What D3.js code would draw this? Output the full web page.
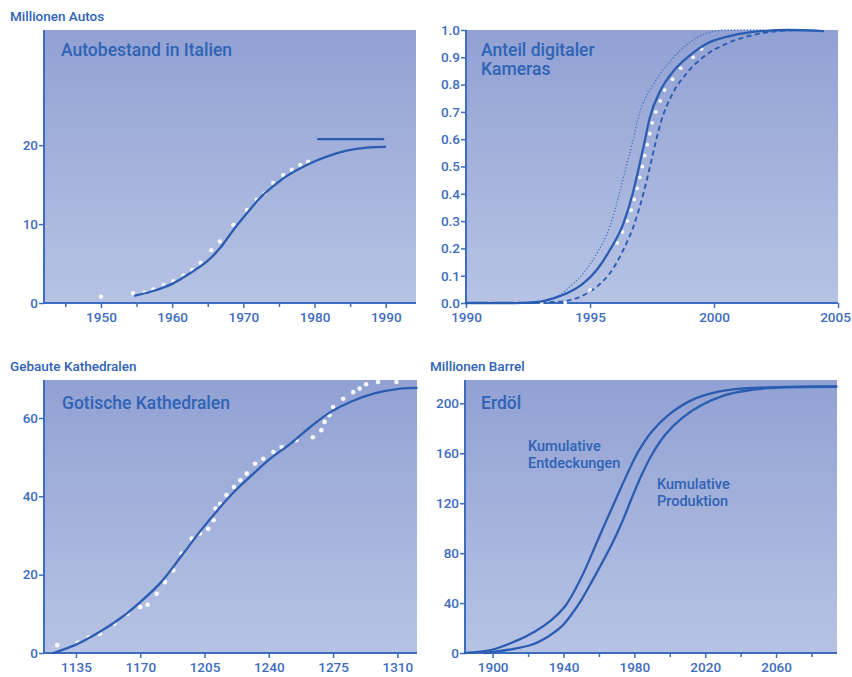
<!DOCTYPE html>
<html><head><meta charset="utf-8">
<script src="https://cdn.jsdelivr.net/npm/d3@7"></script>
<style>
html,body{margin:0;padding:0;background:#fff;}
svg{display:block;font-family:Roboto,"DejaVu Sans",sans-serif;}
</style></head>
<body>
<svg id="c" width="852" height="677"></svg>
<script>
// ---------- DATA ----------
// Panel 1: Autobestand in Italien (Millionen Autos)
const autoFitYears = [1954.8,1957.35,1960.15,1962.5,1964.85,1966.7,1968.6,1970.5,1972.3,1974.2,1976.1,1978.9,1981.7,1984.5,1987.3,1989.9];
const autoFitValues = [0.93,1.52,2.49,3.76,5.24,6.93,9.26,11.37,13.27,14.8,16.1,17.5,18.55,19.3,19.7,19.8];
const autoDotYears = [1950,1954.5,1956.1,1957.35,1958.8,1960.15,1961.6,1962.8,1964,1965.5,1966.7,1968.6,1970.5,1971.9,1973.0,1974.2,1975.6,1976.8,1978,1979.1];
const autoDotValues = [0.8,1.23,1.3,1.73,2.3,2.75,3.5,4.2,5.1,6.7,7.8,9.9,11.8,13.1,13.9,15.2,16.2,16.9,17.5,17.9];
const autoCeilingYears = [1980.5,1989.65];
const autoCeilingValues = [20.76,20.76];
const autoXTicks = [1950,1960,1970,1980,1990];
const autoXMinor = [1945,1955,1965,1975,1985];
const autoYTicks = [0,10,20];

// Panel 2: Anteil digitaler Kameras
const camSolidYears = [1990,1992,1993,1993.52,1994.19,1994.73,1995.27,1995.8,1996.34,1996.72,1996.98,1997.2,1997.4,1997.85,1998.37,1999.0,1999.7,2000.5,2001.5,2003,2004.4];
const camSolidValues = [0,0,0.005,0.017,0.041,0.072,0.121,0.194,0.29,0.40,0.50,0.59,0.675,0.78,0.85,0.905,0.95,0.975,0.992,1.0,0.996];
const camDottedYears = [1992.5,1993.66,1994.19,1994.73,1995.27,1995.8,1996.18,1996.46,1996.72,1996.95,1997.55,1998.23,1998.9,1999.6,2000.5,2002];
const camDottedValues = [0,0.023,0.06,0.109,0.18,0.28,0.40,0.50,0.59,0.68,0.80,0.885,0.946,0.985,1.0,1.0];
const camDashedYears = [1992,1993.8,1994.6,1995.27,1995.8,1996.34,1996.75,1997.15,1997.42,1997.65,1997.85,1998.35,1998.93,1999.7,2000.5,2001.5,2002.5,2003.5];
const camDashedValues = [0,0.005,0.023,0.06,0.109,0.194,0.28,0.40,0.50,0.59,0.66,0.77,0.845,0.91,0.95,0.98,0.995,1.0];
const camDotYears = [1990.95,1992.0,1993.05,1994.0,1995.0,1996.1,1996.31,1996.51,1996.66,1996.78,1996.9,1997.01,1997.11,1997.21,1997.31,1997.41,1997.51,1997.65,1997.83,1998.01,1998.33,1998.66,1999.16,1999.5];
const camDotValues = [0,0,0,0,0.048,0.22,0.26,0.30,0.34,0.38,0.42,0.46,0.50,0.54,0.58,0.62,0.66,0.70,0.74,0.78,0.82,0.86,0.90,0.93];
const camXTicks = [1990,1995,2000,2005];
const camYTicks = [0,0.1,0.2,0.3,0.4,0.5,0.6,0.7,0.8,0.9,1.0];

// Panel 3: Gotische Kathedralen
const cathFitYears = [1122.7,1135.4,1148,1159,1170,1181,1192,1203,1212,1221,1231.7,1240.8,1251.7,1262.6,1273.5,1284.4,1297,1311.5,1320.5];
const cathFitValues = [0,2.2,5.4,8.8,13,17.9,24.5,31.3,36.4,41.1,45.8,49.6,53.4,57.7,61.5,64.1,66.2,67.5,67.7];
const cathDotYears = [1124.8,1136,1142,1148,1156,1163,1170,1174,1179,1183.5,1188,1192.5,1198,1202.5,1207,1210,1211,1213.5,1217,1221,1224.5,1228,1232.5,1237,1242.5,1247,1255,1264,1268.6,1270.4,1273,1275,1280.5,1286,1289.5,1293,1299.5,1309.5];
const cathDotValues = [2.0,2.6,4.0,4.9,7.5,10.0,11.7,12.3,15.1,18.1,21.1,25.4,29.2,30.5,31.7,33.9,36.9,38.1,40.3,42.4,44.1,45.8,48.3,49.6,51.3,52.6,54.3,55.1,56.9,59.0,60.7,62.8,64.9,66.6,67.5,68.6,69.2,69.2];
const cathXTicks = [1135,1170,1205,1240,1275,1310];
const cathYTicks = [0,20,40,60];

// Panel 4: Erdöl (Millionen Barrel)
const oilDiscYears = [1884.4,1899.4,1912.6,1923.9,1933.3,1940.8,1946.5,1952.1,1957.8,1963.4,1968.1,1970.9,1976.6,1982.2,1989.8,1999.2,2012.4,2027.4,2036.8,2060,2094];
const oilDiscValues = [0,2.6,9.3,17.3,26.6,37.3,50.6,66.6,85.3,103.5,118.5,127.5,145.3,161.3,177.3,190.6,202.6,209.3,211.4,213,213.5];
const oilProdYears = [1895.7,1908.8,1922,1931.4,1939,1944.6,1950.3,1955.9,1961.5,1967.2,1972.8,1978.5,1984.1,1989.8,1997.3,2006.7,2018,2031.2,2036.8,2050,2070,2094];
const oilProdValues = [0,2.6,6.6,13.3,21.3,31,43,57,71.5,87,104,124,142.6,158.6,174.6,188,198.6,206.6,208.5,211.5,213,213.3];
const oilXTicks = [1900,1940,1980,2020,2060];
const oilXMinor = [1920,1960,2000,2040,2080];
const oilYTicks = [0,40,80,120,160,200];

// ---------- DRAWING ----------
const svg = d3.select("#c");
const LINE = "#2a5db2", TXT = "#2f63b5", TICK = "#3d6cc0";

const defs = svg.append("defs");
const grad = defs.append("linearGradient").attr("id","bg").attr("x1",0).attr("y1",0).attr("x2",0).attr("y2",1);
grad.append("stop").attr("offset","0%").attr("stop-color","#91a1d3");
grad.append("stop").attr("offset","100%").attr("stop-color","#b7c3e4");

function panel(o){
  const g = svg.append("g");
  const x = d3.scaleLinear().domain(o.xDomain).range([o.left,o.right]);
  const y = d3.scaleLinear().domain(o.yDomain).range([o.bottom,o.top]);
  g.append("rect").attr("x",o.left).attr("y",o.top).attr("width",o.right-o.left).attr("height",o.bottom-o.top).attr("fill","url(#bg)");
  if(o.xMinor){
    const am = g.append("g").attr("transform",`translate(0,${o.bottom})`)
      .call(d3.axisBottom(x).tickValues(o.xMinor).tickSize(4).tickFormat(""));
    am.select(".domain").remove();
    am.selectAll("line").attr("stroke",TICK).attr("stroke-width",1.5);
  }
  const ax = g.append("g").attr("transform",`translate(0,${o.bottom})`)
    .call(d3.axisBottom(x).tickValues(o.xTicks).tickSize(5).tickPadding(4).tickFormat(d3.format("d")));
  const ay = g.append("g").attr("transform",`translate(${o.left},0)`)
    .call(d3.axisLeft(y).tickValues(o.yTicks).tickSize(5).tickPadding(1).tickFormat(o.yFormat||d3.format("d")));
  [ax,ay].forEach(a=>{
    a.select(".domain").remove();
    a.selectAll(".tick line").attr("stroke",TICK).attr("stroke-width",1.5);
    a.selectAll(".tick text").attr("fill",TICK).attr("font-size",13.5).attr("font-weight",500).attr("font-family","Roboto, sans-serif");
  });
  if(o.lastLabelShift){
    ax.selectAll(".tick text").filter((d,i,n)=>i===n.length-1).attr("dx",o.lastLabelShift);
  }
  g.append("line").attr("x1",o.left).attr("x2",o.right).attr("y1",o.bottom).attr("y2",o.bottom).attr("stroke",TICK).attr("stroke-width",2);
  g.append("line").attr("x1",o.left).attr("x2",o.left).attr("y1",o.top).attr("y2",o.bottom).attr("stroke",TICK).attr("stroke-width",2);
  return {g,x,y};
}

function path(p, xs, ys, style){
  const line = d3.line().x(d=>p.x(d[0])).y(d=>p.y(d[1])).curve(style.curve||d3.curveCatmullRom.alpha(0.5));
  const el = p.g.append("path").attr("d", line(d3.zip(xs,ys))).attr("fill","none")
    .attr("stroke", style.color||LINE).attr("stroke-width", style.width||2).attr("stroke-linecap","round");
  if(style.dash) el.attr("stroke-dasharray", style.dash).attr("stroke-linecap","butt");
  return el;
}
function dots(p, xs, ys, r){
  p.g.append("g").selectAll("circle").data(d3.zip(xs,ys)).join("circle")
    .attr("cx",d=>p.x(d[0])).attr("cy",d=>p.y(d[1])).attr("r",r).attr("fill","#ffffff").attr("fill-opacity",0.92);
}
function label(txt, x, y, size, weight){
  svg.append("text").attr("x",x).attr("y",y).attr("fill",TXT).attr("font-size",size)
    .attr("font-weight",weight||500).text(txt);
}

// Panel 1
const p1 = panel({left:44,right:416,top:30,bottom:303,xDomain:[1942,1994.25],yDomain:[0,34.6],xTicks:autoXTicks,xMinor:autoXMinor,yTicks:autoYTicks});
dots(p1, autoDotYears, autoDotValues, 2.2);
path(p1, autoFitYears, autoFitValues, {width:2.3});
path(p1, autoCeilingYears, autoCeilingValues, {width:2.3});
label("Autobestand in Italien", 61, 56, 17.5, 500);
label("Millionen Autos", 10, 21, 13.5, 500);

// Panel 2
const p2 = panel({left:466,right:838,top:30,bottom:303,xDomain:[1990,2005],yDomain:[0,1],xTicks:camXTicks,yTicks:camYTicks,yFormat:d3.format(".1f"),lastLabelShift:-3});
path(p2, camDottedYears, camDottedValues, {width:1.3, dash:"1.2,2", color:"#4070c4", curve:d3.curveMonotoneX});
path(p2, camDashedYears, camDashedValues, {width:1.9, dash:"5,3.5", curve:d3.curveMonotoneX});
dots(p2, camDotYears, camDotValues, 1.9);
path(p2, camSolidYears, camSolidValues, {width:2.3, curve:d3.curveMonotoneX});
label("Anteil digitaler", 481, 56, 17.5, 500);
label("Kameras", 481, 75, 17.5, 500);

// Panel 3
const p3 = panel({left:44,right:417,top:380,bottom:653,xDomain:[1117.6,1320.7],yDomain:[0,69.7],xTicks:cathXTicks,yTicks:cathYTicks});
dots(p3, cathDotYears, cathDotValues, 2.3);
path(p3, cathFitYears, cathFitValues, {width:2.3});
label("Gotische Kathedralen", 62, 409, 17.5, 500);
label("Gebaute Kathedralen", 10, 371, 13.5, 500);

// Panel 4
const p4 = panel({left:465,right:837,top:380,bottom:653,xDomain:[1884.4,2094.4],yDomain:[0,218.7],xTicks:oilXTicks,xMinor:oilXMinor,yTicks:oilYTicks});
path(p4, oilDiscYears, oilDiscValues, {width:2.3});
path(p4, oilProdYears, oilProdValues, {width:2.3});
label("Erdöl", 481, 409, 17.5, 500);
label("Millionen Barrel", 430, 371, 13.5, 500);
label("Kumulative", 528, 451, 14.5, 500);
label("Entdeckungen", 528, 468, 14.5, 500);
label("Kumulative", 657, 489, 14.5, 500);
label("Produktion", 657, 506, 14.5, 500);
</script>
</body></html>
